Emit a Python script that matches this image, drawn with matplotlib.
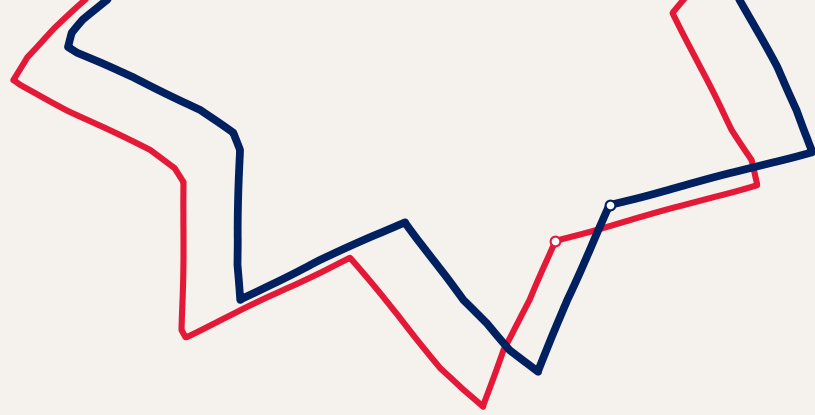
import matplotlib
matplotlib.use("Agg")
import matplotlib.pyplot as plt

# Track outlines (pixel-like data coordinates, y grows downward)
red_x = [555, 757, 752, 732, 700, 673, 700, 110, 85, 55, 27, 13, 20, 67, 150, 175, 184, 183, 182, 186, 250, 350, 398, 440, 463, 483, 503, 530, 555]
red_y = [241, 185, 160, 130, 67, 13, -20, -30, 0, 28, 57, 80, 85, 110, 150, 168, 182, 260, 330, 337, 306, 258, 315, 368, 390, 407, 350, 300, 241]

navy_x = [610, 812, 797, 777, 740, 725, 130, 107, 83, 72, 68, 77, 133, 200, 233, 240, 238, 237, 240, 320, 405, 463, 487, 510, 538, 547, 567, 610]
navy_y = [205, 152, 110, 67, 0, -30, -30, 0, 20, 33, 47, 53, 77, 110, 133, 150, 220, 265, 300, 260, 222, 300, 323, 350, 372, 350, 300, 205]

BG = "#f5f2ee"
RED = "#e31937"
NAVY = "#002060"

fig = plt.figure(figsize=(8.15, 4.15), dpi=100, facecolor=BG)
ax = fig.add_axes([0, 0, 1, 1])
ax.set_facecolor(BG)

l1, = ax.plot(red_x, red_y, color=RED, lw=4.4, solid_joinstyle="round", solid_capstyle="round")
l2, = ax.plot(navy_x, navy_y, color=NAVY, lw=5.6, solid_joinstyle="round", solid_capstyle="round")
for l in (l1, l2):
    l.set_sketch_params(scale=0.5, length=200, randomness=4)

ax.plot(red_x[0], red_y[0], "o", ms=7, mfc="white", mec=RED, mew=1.5)
ax.plot(navy_x[0], navy_y[0], "o", ms=7, mfc="white", mec=NAVY, mew=1.5)

ax.set_xlim(0, 815)
ax.set_ylim(415, 0)
ax.axis("off")

fig.savefig("out.png", dpi=100, facecolor=BG)
